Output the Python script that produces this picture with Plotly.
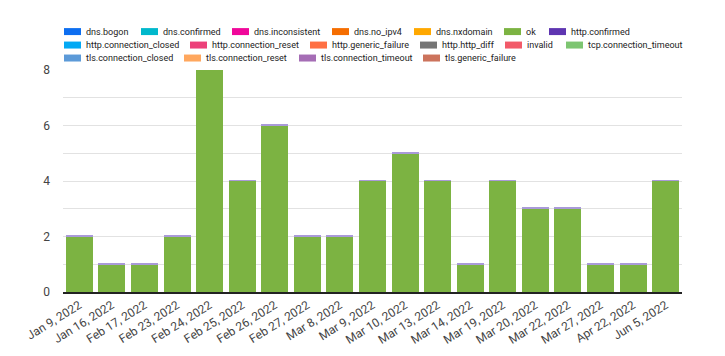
import plotly.graph_objects as go

dates = ["Jan 9, 2022", "Jan 16, 2022", "Feb 17, 2022", "Feb 23, 2022", "Feb 24, 2022",
         "Feb 25, 2022", "Feb 26, 2022", "Feb 27, 2022", "Mar 8, 2022", "Mar 9, 2022",
         "Mar 10, 2022", "Mar 13, 2022", "Mar 14, 2022", "Mar 19, 2022", "Mar 20, 2022",
         "Mar 22, 2022", "Mar 27, 2022", "Apr 22, 2022", "Jun 5, 2022"]
ok_counts = [2, 1, 1, 2, 8, 4, 6, 2, 2, 4, 5, 4, 1, 4, 3, 3, 1, 1, 4]
http_confirmed_counts = [0.03, 0.03, 0.03, 0.03, 0.03, 0.03, 0.03, 0.03, 0.03, 0.03,
                         0.03, 0.03, 0.03, 0.03, 0.03, 0.03, 0.03, 0.03, 0.03]

legend_rows = [
    ["dns.bogon", "dns.confirmed", "dns.inconsistent", "dns.no_ipv4", "dns.nxdomain", "ok", "http.confirmed"],
    ["http.connection_closed", "http.connection_reset", "http.generic_failure", "http.http_diff",
     "invalid", "tcp.connection_timeout"],
    ["tls.connection_closed", "tls.connection_reset", "tls.connection_timeout", "tls.generic_failure"],
]
colors = {
    "dns.bogon": "#0d6ef0", "dns.confirmed": "#00b8cc", "dns.inconsistent": "#f0079a",
    "dns.no_ipv4": "#f56d00", "dns.nxdomain": "#ffa800", "ok": "#7cb342",
    "http.confirmed": "#5e35b1", "http.connection_closed": "#03a9f4",
    "http.connection_reset": "#ec407a", "http.generic_failure": "#ff7043",
    "http.http_diff": "#757575", "invalid": "#f25a69", "tcp.connection_timeout": "#7dc571",
    "tls.connection_closed": "#5c9ad8", "tls.connection_reset": "#ffa75e",
    "tls.connection_timeout": "#a56db5", "tls.generic_failure": "#cc735c",
}
# legend layout (page pixels)
legend_x = [
    [64, 141, 232, 332, 414, 504, 549],
    [64, 190, 310, 420, 505, 566],
    [64, 184, 299, 423],
]
legend_y = [31, 44.5, 57.5]

OFF = 8  # default page body margin
W, H = 725 - OFF, 356 - OFF
L, T = 63 - OFF, 69.5 - OFF
R = W - (682 - OFF)
B = H - (292 - OFF)
pw, ph = W - L - R, H - T - B

def px(x):
    return (x - OFF - L) / pw

def py(y):
    return (H - B - (y - OFF)) / ph

fig = go.Figure()
fig.add_trace(go.Bar(x=dates, y=ok_counts, name="ok", marker_color=colors["ok"],
                     marker_line_width=0, showlegend=False))
fig.add_trace(go.Bar(x=dates, y=http_confirmed_counts, name="http.confirmed",
                     marker_color="#a99ad8", marker_line_width=0, showlegend=False))

shapes = []
annotations = []
for r, row in enumerate(legend_rows):
    for i, name in enumerate(row):
        x0 = legend_x[r][i]
        yc = legend_y[r]
        shapes.append(dict(type="rect", xref="paper", yref="paper",
                           x0=px(x0), x1=px(x0 + 17), y0=py(yc + 3.5), y1=py(yc - 3.5),
                           fillcolor=colors[name], line_width=0, layer="above"))
        annotations.append(dict(text=name, xref="paper", yref="paper", x=px(x0 + 20), y=py(yc),
                                xanchor="left", yanchor="middle", showarrow=False,
                                font=dict(family="Roboto", size=9, color="#222222")))

fig.update_layout(
    width=W, height=H,
    margin=dict(l=L, r=R, t=T, b=B, pad=0),
    barmode="stack", bargap=0.17,
    plot_bgcolor="white", paper_bgcolor="white",
    font=dict(family="Roboto", size=12, color="#444444"),
    shapes=shapes, annotations=annotations,
    showlegend=False,
    xaxis=dict(tickangle=-32, showgrid=False, showline=True, linecolor="#222222",
               linewidth=1.5, ticks="", tickfont=dict(size=12, color="#444444"),
               automargin=False),
    yaxis=dict(range=[0, 8], tickvals=[0, 2, 4, 6, 8], showgrid=True, gridcolor="#e2e2e2",
               gridwidth=1, zeroline=False, ticks="", ticklabelstandoff=12,
               minor=dict(dtick=1, showgrid=True, gridcolor="#e2e2e2", gridwidth=1),
               tickfont=dict(size=12, color="#444444"), automargin=False),
)

fig.write_html("out.html")
